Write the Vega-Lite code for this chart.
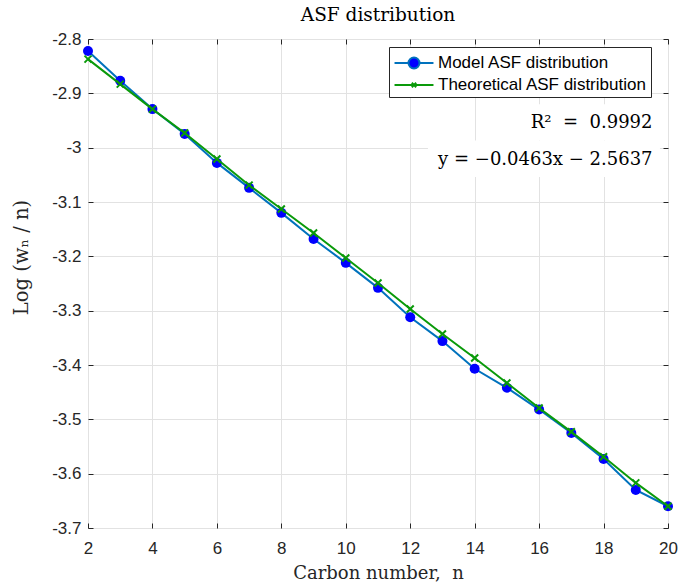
{
  "$schema": "https://vega.github.io/schema/vega-lite/v6.json",
  "width": 580,
  "height": 489,
  "autosize": {"type": "none"},
  "padding": {"left": 88, "top": 39, "right": 11, "bottom": 55},
  "background": "white",
  "config": {
    "view": {"stroke": "#262626", "strokeWidth": 1},
    "axis": {
      "labelFont": "Liberation Sans", "labelFontSize": 17, "labelColor": "#262626",
      "tickColor": "#262626", "tickSize": -5, "domain": false,
      "gridColor": "#e2e2e2", "gridWidth": 1, "labelFlush": false, "labelOverlap": false,
      "titleFont": "DejaVu Serif", "titleFontSize": 18, "titleFontWeight": "normal", "titleColor": "#262626"
    }
  },
  "title": {"text": "ASF distribution", "font": "DejaVu Serif", "fontSize": 18.5, "fontWeight": "normal", "color": "#000000", "anchor": "middle", "offset": 6},
  "data": {"values": [
    {"n": 2, "series": "Model ASF distribution", "v": -2.822},
    {"n": 3, "series": "Model ASF distribution", "v": -2.877},
    {"n": 4, "series": "Model ASF distribution", "v": -2.929},
    {"n": 5, "series": "Model ASF distribution", "v": -2.975},
    {"n": 6, "series": "Model ASF distribution", "v": -3.028},
    {"n": 7, "series": "Model ASF distribution", "v": -3.074},
    {"n": 8, "series": "Model ASF distribution", "v": -3.120},
    {"n": 9, "series": "Model ASF distribution", "v": -3.168},
    {"n": 10, "series": "Model ASF distribution", "v": -3.212},
    {"n": 11, "series": "Model ASF distribution", "v": -3.258},
    {"n": 12, "series": "Model ASF distribution", "v": -3.312},
    {"n": 13, "series": "Model ASF distribution", "v": -3.356},
    {"n": 14, "series": "Model ASF distribution", "v": -3.407},
    {"n": 15, "series": "Model ASF distribution", "v": -3.442},
    {"n": 16, "series": "Model ASF distribution", "v": -3.482},
    {"n": 17, "series": "Model ASF distribution", "v": -3.525},
    {"n": 18, "series": "Model ASF distribution", "v": -3.573},
    {"n": 19, "series": "Model ASF distribution", "v": -3.630},
    {"n": 20, "series": "Model ASF distribution", "v": -3.660},
    {"n": 2, "series": "Theoretical ASF distribution", "v": -2.837},
    {"n": 3, "series": "Theoretical ASF distribution", "v": -2.883},
    {"n": 4, "series": "Theoretical ASF distribution", "v": -2.929},
    {"n": 5, "series": "Theoretical ASF distribution", "v": -2.973},
    {"n": 6, "series": "Theoretical ASF distribution", "v": -3.021},
    {"n": 7, "series": "Theoretical ASF distribution", "v": -3.069},
    {"n": 8, "series": "Theoretical ASF distribution", "v": -3.113},
    {"n": 9, "series": "Theoretical ASF distribution", "v": -3.157},
    {"n": 10, "series": "Theoretical ASF distribution", "v": -3.203},
    {"n": 11, "series": "Theoretical ASF distribution", "v": -3.249},
    {"n": 12, "series": "Theoretical ASF distribution", "v": -3.297},
    {"n": 13, "series": "Theoretical ASF distribution", "v": -3.343},
    {"n": 14, "series": "Theoretical ASF distribution", "v": -3.387},
    {"n": 15, "series": "Theoretical ASF distribution", "v": -3.433},
    {"n": 16, "series": "Theoretical ASF distribution", "v": -3.479},
    {"n": 17, "series": "Theoretical ASF distribution", "v": -3.523},
    {"n": 18, "series": "Theoretical ASF distribution", "v": -3.569},
    {"n": 19, "series": "Theoretical ASF distribution", "v": -3.617},
    {"n": 20, "series": "Theoretical ASF distribution", "v": -3.660}
  ]},
  "layer": [
    {
      "transform": [{"filter": "datum.series === 'Model ASF distribution'"}],
      "mark": {"type": "line", "color": "#0072BD", "strokeWidth": 2},
      "encoding": {
        "x": {"field": "n", "type": "quantitative", "scale": {"domain": [2, 20], "nice": false},
          "axis": {"values": [2, 4, 6, 8, 10, 12, 14, 16, 18, 20], "grid": true, "title": "Carbon number,\u00a0\u00a0n", "labelPadding": 17, "titlePadding": 8}},
        "y": {"field": "v", "type": "quantitative", "scale": {"domain": [-3.7, -2.8], "nice": false, "zero": false},
          "axis": {"values": [-3.7, -3.6, -3.5, -3.4, -3.3, -3.2, -3.1, -3.0, -2.9, -2.8], "grid": true, "title": "Log (wₙ / n)", "titleFontSize": 19.5, "labelPadding": 12,
            "titleX": -67, "titleY": 218, "titleAngle": -90, "titleAlign": "center", "titleBaseline": "middle",
            "labelExpr": "replace(format(datum.value, '~g'), '\u2212', '-')"}}
      }
    },
    {
      "transform": [{"filter": "datum.series === 'Model ASF distribution'"}],
      "mark": {"type": "point", "filled": true, "shape": "circle", "color": "#0000FF", "size": 100, "opacity": 1},
      "encoding": {
        "x": {"field": "n", "type": "quantitative", "axis": null},
        "y": {"field": "v", "type": "quantitative", "axis": null}
      }
    },
    {
      "transform": [{"filter": "datum.series === 'Theoretical ASF distribution'"}],
      "mark": {"type": "line", "color": "#0A9A0A", "strokeWidth": 2},
      "encoding": {
        "x": {"field": "n", "type": "quantitative", "axis": {"orient": "top", "values": [2, 4, 6, 8, 10, 12, 14, 16, 18, 20], "labels": false, "title": null, "grid": false}},
        "y": {"field": "v", "type": "quantitative", "axis": {"orient": "right", "values": [-3.7, -3.6, -3.5, -3.4, -3.3, -3.2, -3.1, -3.0, -2.9, -2.8], "labels": false, "title": null, "grid": false}}
      }
    },
    {
      "transform": [{"filter": "datum.series === 'Theoretical ASF distribution'"}],
      "mark": {"type": "point", "filled": false, "shape": "M-1,-1L1,1M-1,1L1,-1", "color": "#0A9A0A", "strokeWidth": 2, "size": 49, "opacity": 1},
      "encoding": {
        "x": {"field": "n", "type": "quantitative", "axis": null},
        "y": {"field": "v", "type": "quantitative", "axis": null}
      }
    },
    {
      "transform": [{"filter": "datum.n > 1000"}],
      "mark": {"type": "point", "filled": true, "strokeWidth": 2, "opacity": 1},
      "encoding": {
        "x": {"field": "n", "type": "quantitative", "axis": null},
        "y": {"field": "v", "type": "quantitative", "axis": null},
        "stroke": {"field": "series", "type": "nominal",
          "scale": {"domain": ["Model ASF distribution", "Theoretical ASF distribution"], "range": ["#0072BD", "#0A9A0A"]},
          "legend": {"title": null, "orient": "none", "legendX": 301, "legendY": 8, "padding": 4, "strokeColor": "#262626", "fillColor": "white", "labelFont": "Liberation Sans", "labelFontSize": 17, "labelColor": "#000000", "labelLimit": 400, "symbolSize": 484, "symbolStrokeWidth": 2, "symbolOffset": 9, "labelOffset": 12, "rowPadding": 0,
            "encode": {"symbols": {"update": {"opacity": {"value": 1}, "strokeWidth": {"value": 2}}}}}},
        "fill": {"field": "series", "type": "nominal",
          "scale": {"domain": ["Model ASF distribution", "Theoretical ASF distribution"], "range": ["#0000FF", "#0A9A0A"]},
          "legend": {"title": null, "orient": "none", "legendX": 301, "legendY": 8, "padding": 4, "strokeColor": "#262626", "fillColor": "white", "labelFont": "Liberation Sans", "labelFontSize": 17, "labelColor": "#000000", "labelLimit": 400, "symbolSize": 484, "symbolStrokeWidth": 2, "symbolOffset": 9, "labelOffset": 12, "rowPadding": 0,
            "encode": {"symbols": {"update": {"opacity": {"value": 1}, "strokeWidth": {"value": 2}}}}}},
        "shape": {"field": "series", "type": "nominal",
          "scale": {"domain": ["Model ASF distribution", "Theoretical ASF distribution"], "range": ["M-1.77,0L-0.5,0M0.5,0L1.77,0M0.5,0A0.5,0.5 0 1 1 -0.5,0A0.5,0.5 0 1 1 0.5,0Z", "M-1.77,0L1.77,0M-0.2,-0.2L0.2,0.2M-0.2,0.2L0.2,-0.2"]},
          "legend": {"title": null, "orient": "none", "legendX": 301, "legendY": 8, "padding": 4, "strokeColor": "#262626", "fillColor": "white", "labelFont": "Liberation Sans", "labelFontSize": 17, "labelColor": "#000000", "labelLimit": 400, "symbolSize": 484, "symbolStrokeWidth": 2, "symbolOffset": 9, "labelOffset": 12, "rowPadding": 0,
            "encode": {"symbols": {"update": {"opacity": {"value": 1}, "strokeWidth": {"value": 2}}}}}}
      }
    },
    {
      "data": {"values": [{}]},
      "mark": {"type": "rect", "fill": "white"},
      "encoding": {
        "x": {"datum": 15.4, "type": "quantitative", "axis": null},
        "x2": {"datum": 19.75},
        "y": {"datum": -2.92, "type": "quantitative", "axis": null},
        "y2": {"datum": -2.987}
      }
    },
    {
      "data": {"values": [{}]},
      "mark": {"type": "rect", "fill": "white"},
      "encoding": {
        "x": {"datum": 12.55, "type": "quantitative", "axis": null},
        "x2": {"datum": 19.75},
        "y": {"datum": -2.987, "type": "quantitative", "axis": null},
        "y2": {"datum": -3.054}
      }
    },
    {
      "data": {"values": [{}]},
      "mark": {"type": "text", "align": "right", "baseline": "middle", "font": "DejaVu Serif", "fontSize": 18, "fill": "#000000", "text": "R²\u00a0\u00a0=\u00a0\u00a00.9992"},
      "encoding": {
        "x": {"datum": 19.52, "type": "quantitative", "axis": null},
        "y": {"datum": -2.955, "type": "quantitative", "axis": null}
      }
    },
    {
      "data": {"values": [{}]},
      "mark": {"type": "text", "align": "right", "baseline": "middle", "font": "DejaVu Serif", "fontSize": 18, "fill": "#000000", "text": "y = −0.0463x − 2.5637"},
      "encoding": {
        "x": {"datum": 19.52, "type": "quantitative", "axis": null},
        "y": {"datum": -3.022, "type": "quantitative", "axis": null}
      }
    }
  ],
  "resolve": {"axis": {"x": "independent", "y": "independent"}}
}
